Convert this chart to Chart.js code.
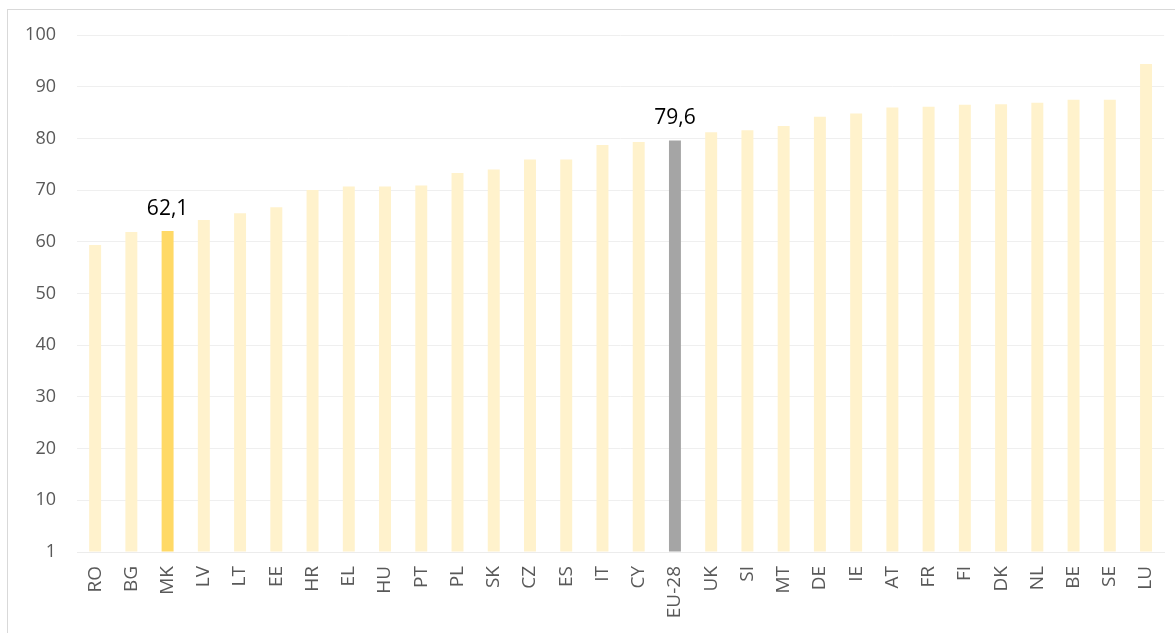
<!DOCTYPE html>
<html>
<head>
<meta charset="utf-8">
<script src="https://cdn.jsdelivr.net/npm/chart.js@4/dist/chart.umd.min.js"></script>
<style>
  html, body { margin: 0; padding: 0; background: #fff; }
  #wrap { position: absolute; left: 0; top: 0; width: 1175px; height: 633px; }
  #frame { position: absolute; left: 7px; top: 9px; width: 1200px; height: 700px;
           border-left: 1px solid #d9d9d9; border-top: 1px solid #d9d9d9; }
</style>
</head>
<body>
<div id="wrap">
  <div id="frame"></div>
  <canvas id="myChart" width="1175" height="633"></canvas>
</div>
<script>
// countries, sorted as in the figure
const countries = ['RO','BG','MK','LV','LT','EE','HR','EL','HU','PT','PL','SK','CZ','ES','IT','CY',
                   'EU-28','UK','SI','MT','DE','IE','AT','FR','FI','DK','NL','BE','SE','LU'];
const values = [59.4, 61.9, 62.1, 64.2, 65.5, 66.7, 70.0, 70.7, 70.7, 70.9, 73.3, 74.0, 75.9, 75.9, 78.7, 79.3,
                79.6, 81.2, 81.6, 82.4, 84.2, 84.8, 86.0, 86.1, 86.5, 86.6, 86.9, 87.5, 87.5, 94.4];
const yTicks = [0, 10, 20, 30, 40, 50, 60, 70, 80, 90, 100];
const yTickText = ['1', '10', '20', '30', '40', '50', '60', '70', '80', '90', '100'];
const labelled = ['MK', 'EU-28'];

const colors = countries.map(c => c === 'MK' ? '#ffd966' : (c === 'EU-28' ? '#a5a5a5' : '#fff2cc'));

// draws the value over the highlighted bars
const valueLabels = {
  id: 'valueLabels',
  afterDatasetsDraw(chart) {
    const ctx = chart.ctx;
    const meta = chart.getDatasetMeta(0);
    ctx.save();
    ctx.font = '21px "Open Sans"';
    ctx.fillStyle = '#000';
    ctx.textAlign = 'center';
    ctx.textBaseline = 'alphabetic';
    meta.data.forEach((bar, i) => {
      if (!labelled.includes(countries[i])) return;
      ctx.fillText(values[i].toFixed(1).replace('.', ','), bar.x, bar.y - 16);
    });
    ctx.restore();
  }
};

const config = {
  type: 'bar',
  data: {
    labels: countries,
    datasets: [{
      data: values,
      backgroundColor: colors,
      borderWidth: 0,
      barPercentage: 0.33,
      categoryPercentage: 1
    }]
  },
  options: {
    responsive: false,
    animation: false,
    layout: { padding: { top: 35, right: 9, left: 0, bottom: 0 } },
    plugins: { legend: { display: false }, tooltip: { enabled: false } },
    scales: {
      x: {
        grid: { display: false },
        border: { color: '#ececec' },
        ticks: {
          color: '#595959', font: { family: 'Open Sans', size: 19 },
          minRotation: 90, maxRotation: 90, padding: 6
        },
        afterFit(s) { s.height = 81; }
      },
      y: {
        min: 0, max: 100,
        afterBuildTicks(s) { s.ticks = yTicks.map(v => ({ value: v })); },
        grid: { color: '#efefef', drawTicks: false },
        border: { display: false },
        ticks: {
          color: '#595959', font: { family: 'Open Sans', size: 18 }, padding: 21,
          callback: (v) => yTickText[yTicks.indexOf(v)]
        },
        afterFit(s) { s.width = 77; }
      }
    }
  },
  plugins: [valueLabels]
};

const myChart = new Chart(document.getElementById('myChart'), config);
</script>
</body>
</html>
